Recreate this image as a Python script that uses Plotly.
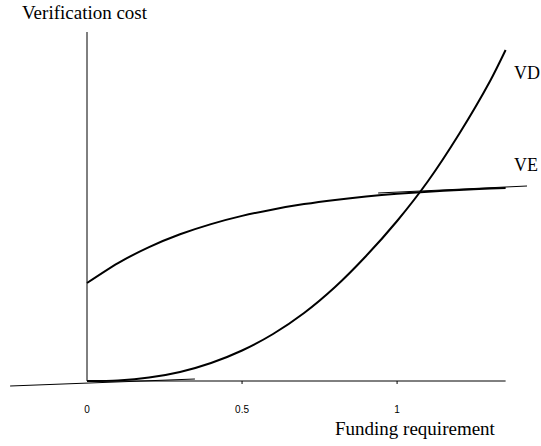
import plotly.graph_objects as go

# Data (y in arbitrary cost units)
funding = [0, 0.1, 0.2, 0.3, 0.4, 0.5, 0.6, 0.7, 0.8, 0.9, 1.0, 1.1, 1.2, 1.3, 1.35]
vd_cost = [0, 0.006, 0.034, 0.09, 0.18, 0.305, 0.47, 0.68, 0.94, 1.25, 1.60, 2.00, 2.47, 3.00, 3.31]
ve_cost = [0.98, 1.179, 1.339, 1.467, 1.569, 1.651, 1.716, 1.769, 1.811, 1.845, 1.872, 1.893, 1.91, 1.924, 1.93]

# tangent lines
tan_top_x = [0.939, 1.419]
tan_top_y = [1.88, 1.95]
tan_bot_x = [-0.248, 0.348]
tan_bot_y = [-0.05, 0.02]

tick_vals = [0, 0.5, 1]
tick_text = ["0", "0.5", "1"]

X_RANGE = [-0.2645, 1.448]
Y_RANGE = [-0.11, 3.49]
X_MAX = max(funding)

fig = go.Figure()
fig.add_trace(go.Scatter(x=funding, y=vd_cost, mode="lines",
                         line=dict(color="black", width=2, shape="spline", smoothing=0.8),
                         hoverinfo="skip", showlegend=False, name="VD"))
fig.add_trace(go.Scatter(x=funding, y=ve_cost, mode="lines",
                         line=dict(color="black", width=2, shape="spline", smoothing=0.8),
                         hoverinfo="skip", showlegend=False, name="VE"))
fig.add_trace(go.Scatter(x=tan_top_x, y=tan_top_y, mode="lines", line=dict(color="black", width=1),
                         hoverinfo="skip", showlegend=False))
fig.add_trace(go.Scatter(x=tan_bot_x, y=tan_bot_y, mode="lines", line=dict(color="black", width=1),
                         hoverinfo="skip", showlegend=False))

shapes = [
    dict(type="line", xref="x", yref="y", x0=0, x1=0, y0=0, y1=Y_RANGE[1], line=dict(color="black", width=1)),
    dict(type="line", xref="x", yref="y", x0=0, x1=X_MAX, y0=0, y1=0, line=dict(color="black", width=1)),
]
for tv in tick_vals[1:]:
    shapes.append(dict(type="line", xref="x", yref="y", x0=tv, x1=tv, y0=0, y1=-0.03,
                       line=dict(color="black", width=1)))

serif = "Liberation Serif, Times New Roman, serif"
annotations = [
    dict(text="Verification cost", xref="paper", yref="paper", x=(20 - 5) / 531, y=(392 - 13) / 360,
         xanchor="left", yanchor="middle", showarrow=False, font=dict(family=serif, size=19, color="black")),
    dict(text="Funding requirement", xref="paper", yref="paper", x=(498 - 5) / 531, y=(392 - 428) / 360,
         xanchor="right", yanchor="middle", showarrow=False, font=dict(family=serif, size=19, color="black")),
    dict(text="VD", xref="paper", yref="paper", x=(512 - 5) / 531, y=(392 - 73) / 360,
         xanchor="left", yanchor="middle", showarrow=False, font=dict(family=serif, size=18, color="black")),
    dict(text="VE", xref="paper", yref="paper", x=(512 - 5) / 531, y=(392 - 165) / 360,
         xanchor="left", yanchor="middle", showarrow=False, font=dict(family=serif, size=18, color="black")),
]

fig.update_layout(
    width=541, height=446,
    margin=dict(l=5, r=5, t=32, b=54),
    paper_bgcolor="white", plot_bgcolor="white",
    shapes=shapes, annotations=annotations,
    xaxis=dict(range=X_RANGE, showgrid=False, zeroline=False, showline=False, ticks="",
               tickvals=tick_vals, ticktext=tick_text, ticklabelstandoff=10,
               tickfont=dict(family="Liberation Sans, Arial, sans-serif", size=10, color="black"), fixedrange=True),
    yaxis=dict(range=Y_RANGE, showgrid=False, zeroline=False, showline=False, showticklabels=False, ticks="",
               fixedrange=True),
)

fig.write_html("out.html", config={"displayModeBar": False},
               post_script="document.body.style.margin='0';")
